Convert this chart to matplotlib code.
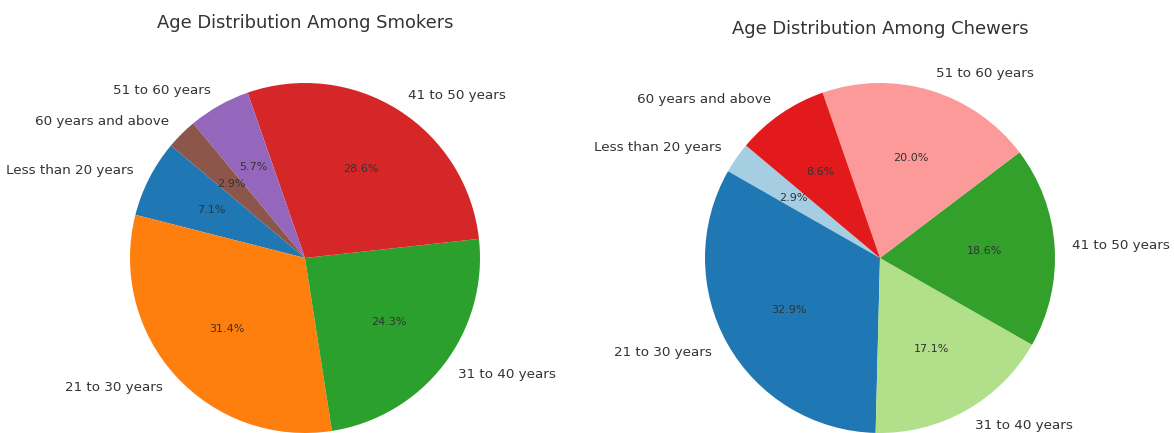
import numpy as np
import matplotlib
matplotlib.use("Agg")
import matplotlib.pyplot as plt

# Age groups (same order for both pies)
age_groups = ["Less than 20 years", "21 to 30 years", "31 to 40 years",
              "41 to 50 years", "51 to 60 years", "60 years and above"]

# respondent counts (n = 70 each), read back from the percentages
smokers = [5, 22, 17, 20, 4, 2]
chewers = [2, 23, 12, 13, 14, 6]

smoker_colors = ["#1f77b4", "#ff7f0e", "#2ca02c", "#d62728", "#9467bd", "#8c564b"]
chewer_colors = ["#a6cee3", "#1f78b4", "#b2df8a", "#33a02c", "#fb9a99", "#e31a1c"]

text_color = "#333333"

fig = plt.figure(figsize=(11.74, 4.33), dpi=100)

# axes placed so the pies sit where they do in the original (slightly cut at the bottom)
W, H = 1174.0, 433.0
side = 437.5
ax1 = fig.add_axes([(305 - side / 2) / W, (175 - side / 2) / H, side / W, side / H])
ax2 = fig.add_axes([(880 - side / 2) / W, (175 - side / 2) / H, side / W, side / H])

for ax, values, colors, title, ty in [
    (ax1, smokers, smoker_colors, "Age Distribution Among Smokers", 1.026),
    (ax2, chewers, chewer_colors, "Age Distribution Among Chewers", 1.012),
]:
    wedges, texts, autotexts = ax.pie(values, labels=age_groups, colors=colors,
                                      autopct="%1.1f%%", startangle=140,
                                      textprops={"color": text_color})
    for t in texts:
        t.set_fontsize(9.7)
    for t in autotexts:
        t.set_fontsize(8)
    ax.set_title(title, fontsize=12.9, color=text_color, y=ty, pad=0)

fig.savefig("out.png", dpi=100)
